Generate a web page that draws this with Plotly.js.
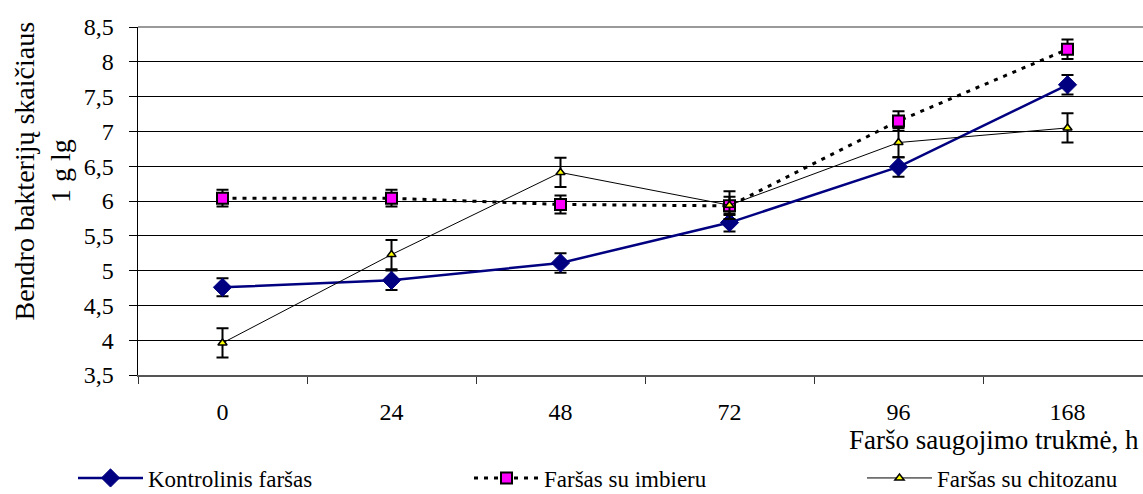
<!DOCTYPE html>
<html>
<head>
<meta charset="utf-8">
<script src="https://cdn.plot.ly/plotly-3.0.1.min.js"></script>
<style>
  html, body { margin: 0; padding: 0; background: #fff; }
  #chart { width: 1143px; height: 494px; }
</style>
</head>
<body>
<div id="chart"></div>
<script>
const categories = ["0", "24", "48", "72", "96", "168"];

const seriesNames = ["Kontrolinis faršas", "Faršas su imbieru", "Faršas su chitozanu"];

const kontrolinis = [4.76, 4.86, 5.11, 5.69, 6.49, 7.67];
const kontrolinisErr = [0.13, 0.14, 0.14, 0.13, 0.14, 0.14];

const imbieru = [6.04, 6.04, 5.95, 5.93, 7.15, 8.18];
const imbieruErr = [0.12, 0.12, 0.13, 0.13, 0.14, 0.14];

const chitozanu = [3.96, 5.23, 6.41, 5.94, 6.84, 7.05];
const chitozanuErr = [0.21, 0.21, 0.21, 0.2, 0.21, 0.21];

const yTitle = "Bendro bakterijų skaičiaus<br>1 g lg";
const xTitle = "Faršo saugojimo trukmė, h";

const FONT = "Liberation Serif";

const errStyle = (arr) => ({
  type: "data", array: arr, visible: true,
  color: "#000", thickness: 2, width: 6
});

const traces = [
  {
    x: categories, y: kontrolinis, name: seriesNames[0],
    type: "scatter", mode: "lines+markers",
    line: { color: "#000080", width: 2.5 },
    marker: { symbol: "diamond", size: 14, color: "#000080", line: { color: "#000080", width: 1 } },
    error_y: errStyle(kontrolinisErr),
    legend: "legend"
  },
  {
    x: categories, y: imbieru, name: seriesNames[1],
    type: "scatter", mode: "lines+markers",
    line: { color: "#000", width: 3, dash: "4px,6px" },
    marker: { symbol: "square", size: 11, color: "#ff00ff", line: { color: "#000", width: 2 } },
    error_y: errStyle(imbieruErr),
    legend: "legend2"
  },
  {
    x: categories, y: chitozanu, name: seriesNames[2],
    type: "scatter", mode: "lines+markers",
    line: { color: "#000", width: 1 },
    marker: { symbol: "triangle-up", size: 8, color: "#ffff00", line: { color: "#000", width: 1.5 } },
    error_y: errStyle(chitozanuErr),
    legend: "legend3"
  }
];

const L = 138, R = 0, T = 27, B = 119;
const W = 1143, H = 494;
const pw = W - L - R, ph = H - T - B;
const px2x = (px) => (px - L) / pw;
const px2y = (py) => (H - B - py) / ph;
const catW = 169;

const legendBase = {
  orientation: "h",
  yanchor: "middle",
  y: px2y(478),
  bgcolor: "rgba(0,0,0,0)",
  font: { family: FONT, size: 23, color: "#000" },
  itemwidth: 65
};

const layout = {
  width: W, height: H,
  margin: { l: L, r: R, t: T, b: B, pad: 0, autoexpand: false },
  paper_bgcolor: "#fff",
  plot_bgcolor: "#fff",
  separators: ", ",
  font: { family: FONT, color: "#000" },
  showlegend: true,
  xaxis: {
    type: "category",
    range: [-0.5, -0.5 + pw / catW],
    tickson: "boundaries",
    ticks: "outside",
    ticklen: 7,
    tickcolor: "#333",
    showgrid: false,
    showline: true,
    linecolor: "#555",
    linewidth: 2,
    tickfont: { family: FONT, size: 24, color: "#000" },
    ticklabelstandoff: 14,
    zeroline: false,
    automargin: false,
    fixedrange: true
  },
  yaxis: {
    range: [3.5, 8.5],
    tick0: 3.5,
    dtick: 0.5,
    ticks: "outside",
    ticklen: 8,
    tickcolor: "#000",
    showgrid: true,
    gridcolor: "#000",
    gridwidth: 1,
    showline: true,
    linecolor: "#000",
    linewidth: 1.5,
    zeroline: false,
    tickfont: { family: FONT, size: 24, color: "#000" },
    ticklabelstandoff: 10,
    automargin: false,
    fixedrange: true
  },
  legend: Object.assign({}, legendBase, { x: px2x(73) }),
  legend2: Object.assign({}, legendBase, { x: px2x(469) }),
  legend3: Object.assign({}, legendBase, { x: px2x(862) }),
  shapes: [
    { type: "line", xref: "paper", yref: "paper", x0: 0, x1: 1, y0: 1, y1: 1,
      line: { color: "#999", width: 2 }, layer: "above" }
  ],
  annotations: [
    {
      text: yTitle, textangle: -90,
      xref: "paper", yref: "paper",
      x: px2x(41.5), y: px2y(171),
      xanchor: "center", yanchor: "middle",
      showarrow: false,
      font: { family: FONT, size: 28, color: "#000" }
    },
    {
      text: xTitle,
      xref: "paper", yref: "paper",
      x: px2x(1141), y: px2y(440),
      xanchor: "right", yanchor: "middle",
      showarrow: false,
      font: { family: FONT, size: 27, color: "#000" }
    }
  ]
};

Plotly.newPlot("chart", traces, layout, { displayModeBar: false, staticPlot: true });
</script>
</body>
</html>
